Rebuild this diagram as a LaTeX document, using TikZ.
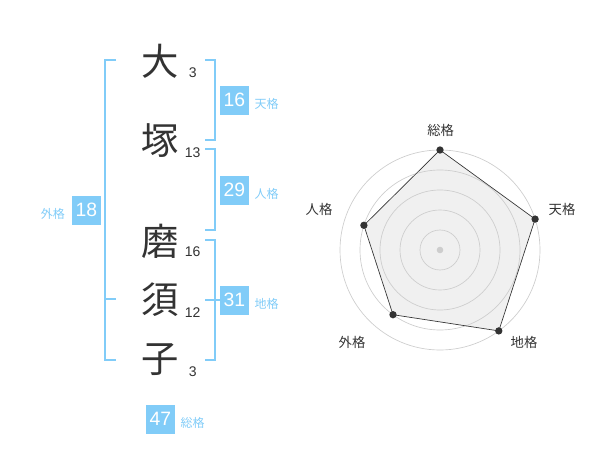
\documentclass[tikz,border=0pt]{standalone}
\usepackage{fontspec}
\setmainfont{Liberation Sans}
\newfontfamily\jpfont{Noto Sans CJK JP}
\usepackage{xcolor}
\usetikzlibrary{positioning, calc}

\definecolor{kakublue}{RGB}{129,204,248}
\definecolor{inkgray}{RGB}{51,51,51}
\definecolor{ringgray}{RGB}{205,205,205}
\definecolor{areagray}{RGB}{240,240,240}

\tikzset{
  kanji/.style={inner sep=0pt, text=inkgray, font=\jpfont\fontsize{28}{28}\selectfont},
  strokes/.style={inner sep=0pt, text=inkgray, font=\fontsize{10.5}{11}\selectfont},
  kakubox/.style={fill=kakublue, text=white, inner sep=0pt, minimum width=21.5pt, minimum height=21.5pt, font=\fontsize{14.5}{15}\selectfont},
  kakulabel/.style={inner sep=0pt, text=kakublue, font=\jpfont\fontsize{9}{10}\selectfont},
  bracket/.style={draw=kakublue, line width=1.5pt},
  axislabel/.style={inner sep=0pt, text=inkgray, font=\jpfont\fontsize{10}{11}\selectfont},
  vertexdot/.style={circle, fill=inkgray, inner sep=0pt, minimum size=5.5pt},
}

\begin{document}
\begin{tikzpicture}[x=0.75pt,y=0.75pt,yscale=-1,xscale=1]
\useasboundingbox (0,0) rectangle (600,470);

% Name characters
\node [kanji] (c1) at (160,61.7) {大};
\node [kanji] (c2) at (160,140.5) {塚};
\node [kanji] (c3) at (160,241.7) {磨};
\node [kanji] (c4) at (160,300) {須};
\node [kanji] (c5) at (160,360) {子};
% Stroke counts
\node [strokes] (s1) at (192.7,72.7) {3};
\node [strokes] (s2) at (192.7,152.7) {13};
\node [strokes] (s3) at (192.7,251.7) {16};
\node [strokes] (s4) at (192.7,312.7) {12};
\node [strokes] (s5) at (192.7,371.7) {3};

%Shape: Bracket outer
\draw [bracket] (116,60) -- (105,60) -- (105,360) -- (116,360) ;
\draw [bracket] (105,299.3) -- (116,299.3) ;
%Shape: Bracket ten
\draw [bracket] (205,60) -- (214.5,60) -- (214.5,140) -- (205,140) ;
%Shape: Bracket jin
\draw [bracket] (205,149.3) -- (214.5,149.3) -- (214.5,230) -- (205,230) ;
%Shape: Bracket chi
\draw [bracket] (205,240) -- (214.5,240) -- (214.5,360) -- (205,360) ;

% Value boxes
\node [kakubox] (ten) at (234.3,100.3) {16};
\node [kakulabel, right=4pt of ten, yshift=-2.5pt] (tenlab) {天格};
\node [kakubox] (jin) at (234.3,190.3) {29};
\node [kakulabel, right=4pt of jin, yshift=-2.5pt] (jinlab) {人格};
\node [kakubox] (chi) at (234.3,300.3) {31};
\node [kakulabel, right=4pt of chi, yshift=-2.5pt] (chilab) {地格};
\node [kakubox] (gai) at (86.3,210.3) {18};
\node [kakulabel, left=5pt of gai, yshift=-2.5pt] (gailab) {外格};
\node [kakubox] (sou) at (160.3,419.3) {47};
\node [kakulabel, right=4pt of sou, yshift=-2.5pt] (soulab) {総格};
\coordinate (chitick) at (205,300.3);
\draw [bracket] (chitick) -- (chi.west) ;

% Radar chart
\coordinate (rc) at (440,250);
\coordinate (psou) at (440,150);
\coordinate (pten) at (535.1,219.1);
\coordinate (pchi) at (498.8,330.9);
\coordinate (pgai) at (393,314.7);
\coordinate (pjin) at (363.9,225.3);
\fill [areagray] (psou) -- (pten) -- (pchi) -- (pgai) -- (pjin) -- cycle ;
\foreach \r in {20,40,...,100}
  \draw [ringgray, line width=0.5pt] (rc) circle [radius=\r] ;
\draw [inkgray, line width=0.5pt] (psou) -- (pten) -- (pchi) -- (pgai) -- (pjin) -- cycle ;
\fill [ringgray] (rc) circle [radius=3.3] ;
\foreach \p in {psou,pten,pchi,pgai,pjin}
  \node [vertexdot] at (\p) {};

% Axis labels
\node [axislabel] (lsou) at (440.7,130.7) {総格};
\node [axislabel] (lten) at (562,209) {天格};
\node [axislabel] (lchi) at (524,342) {地格};
\node [axislabel] (lgai) at (352,342) {外格};
\node [axislabel] (ljin) at (319,209) {人格};

\end{tikzpicture}
\end{document}
